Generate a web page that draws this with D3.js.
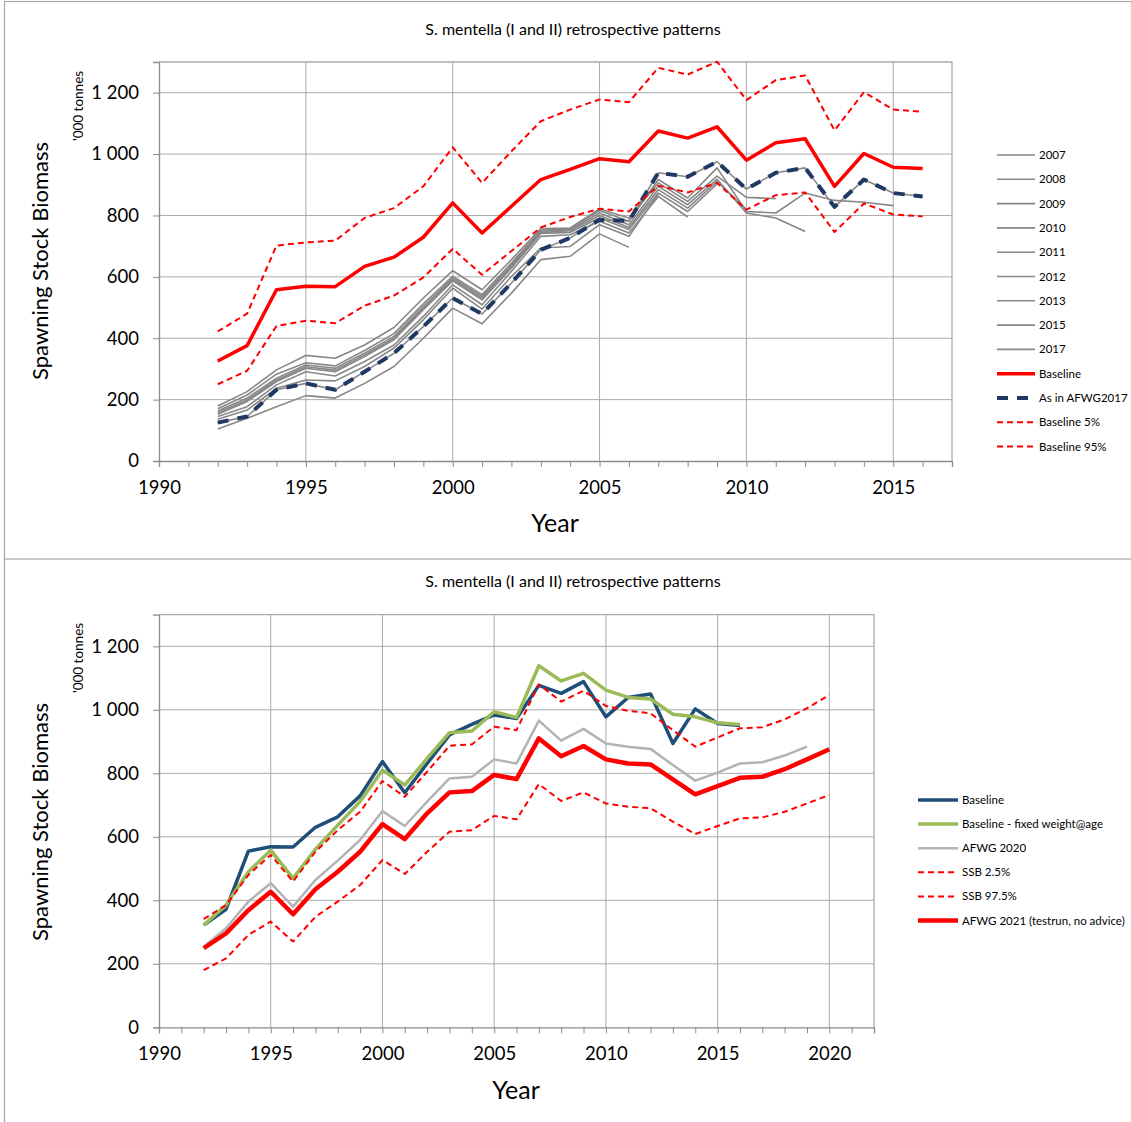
<!DOCTYPE html>
<html><head><meta charset="utf-8">
<script src="https://cdn.jsdelivr.net/npm/d3@7"></script>
<style>
body{margin:0;background:#fff;}
svg text{font-family:Lato,"Open Sans",sans-serif;fill:#000;}
</style></head>
<body>
<svg id="c" width="1131" height="1122"></svg>
<script>
// ---------- DATA ----------
const chartTitle = "S. mentella (I and II) retrospective patterns";
const yTickValues = [0,200,400,600,800,1000,1200];
const yTickLabels = ["0","200","400","600","800","1 000","1 200"];
const xTicksTop = [1990,1995,2000,2005,2010,2015];
const xTicksBottom = [1990,1995,2000,2005,2010,2015,2020];

// Top chart (years start 1992)
const topStartYear = 1992;
const r2007 = [104,139,177,213,205,253,308,400,498,447,547,656,667,740,696];
const r2008 = [136,166,237,264,261,308,368,460,563,495,601,694,699,770,732,870];
const r2009 = [145,177,248,291,277,324,378,471,574,509,618,732,737,781,743,862,795];
const r2010 = [152,194,259,302,291,340,395,493,587,525,629,741,745,792,754,873,813,903];
const r2011 = [157,199,264,307,296,345,400,497,591,530,634,744,750,800,761,884,824,911,820];
const r2012 = [179,226,297,344,335,378,435,531,620,558,656,757,759,821,792,906,846,928,859,855];
const r2013 = [163,205,270,313,302,351,406,503,596,536,639,748,754,808,770,895,835,918,808,792,748];
const r2015 = [170,215,283,320,310,360,415,512,602,542,645,752,757,816,781,917,857,955,813,808,873,849,843,832];
const r2017 = [125,145,232,253,232,291,351,438,531,479,580,688,727,786,782,939,926,975,886,939,955,828,917,873,862];
const topBaseline = [326,376,558,569,568,634,664,729,841,743,830,917,950,985,975,1075,1052,1089,980,1037,1050,895,1002,957,953];
const asInAFWG2017 = [125,145,232,253,232,291,351,438,531,479,580,688,727,786,782,939,926,975,886,939,955,828,917,873,862];
const baseline5 = [250,294,440,457,449,506,539,598,691,607,684,761,795,822,813,897,875,906,819,866,875,746,839,803,797];
const baseline95 = [422,480,702,712,718,792,824,895,1022,906,1009,1107,1145,1178,1169,1281,1259,1301,1176,1241,1256,1077,1202,1145,1138];

// Bottom chart (years start 1992)
const botStartYear = 1992;
const botBaseline = [322,372,555,569,568,630,663,729,837,739,831,921,954,984,973,1077,1052,1089,978,1039,1050,894,1003,957,951];
const fixedWeight = [322,385,490,558,469,561,637,711,810,763,847,928,933,994,976,1139,1091,1115,1062,1039,1034,986,978,959,954];
const afwg2020 = [254,312,396,454,380,464,525,590,681,634,711,784,789,844,831,966,903,940,894,884,877,826,777,802,831,835,856,884];
const ssb25 = [180,217,291,333,270,348,396,448,527,483,553,616,621,666,655,766,713,740,705,695,690,648,609,634,658,661,679,705,732];
const ssb975 = [341,385,480,543,459,553,621,679,776,726,805,887,891,947,936,1080,1026,1060,1012,997,989,936,884,913,942,945,970,1005,1047];
const afwg2021 = [249,296,369,427,356,435,490,553,640,593,674,740,744,795,782,910,854,886,844,831,828,781,734,760,786,789,813,844,876];

// ---------- STYLES ----------
const RED="#ff0000", NAVY="#1f3864", BLUE="#1f4e79", GREEN="#9bbb59", RGRAY="#878787", LGRAY="#b3b3b3", GRID="#ababab";

const topSeries = [
  {name:"2007", data:r2007, color:RGRAY, w:1.6},
  {name:"2008", data:r2008, color:RGRAY, w:1.6},
  {name:"2009", data:r2009, color:RGRAY, w:1.6},
  {name:"2010", data:r2010, color:RGRAY, w:1.6},
  {name:"2011", data:r2011, color:RGRAY, w:1.6},
  {name:"2012", data:r2012, color:RGRAY, w:1.6},
  {name:"2013", data:r2013, color:RGRAY, w:1.6},
  {name:"2015", data:r2015, color:RGRAY, w:1.6},
  {name:"2017", data:r2017, color:RGRAY, w:1.6},
  {name:"Baseline", data:topBaseline, color:RED, w:3.5},
  {name:"As in AFWG2017", data:asInAFWG2017, color:NAVY, w:4, dash:"11,9"},
  {name:"Baseline 5%", data:baseline5, color:RED, w:2, dash:"6,4"},
  {name:"Baseline 95%", data:baseline95, color:RED, w:2, dash:"6,4"}
];
const botSeries = [
  {name:"Baseline", data:botBaseline, color:BLUE, w:3.5},
  {name:"Baseline - fixed weight@age", data:fixedWeight, color:GREEN, w:3.5},
  {name:"AFWG 2020", data:afwg2020, color:LGRAY, w:2.5},
  {name:"SSB 2.5%", data:ssb25, color:RED, w:2, dash:"6,4"},
  {name:"SSB 97.5%", data:ssb975, color:RED, w:2, dash:"6,4"},
  {name:"AFWG 2021 (testrun, no advice)", data:afwg2021, color:RED, w:4.5}
];

const svg = d3.select("#c");

// outer frames
svg.append("rect").attr("x",4.5).attr("y",1.5).attr("width",1127).attr("height",557.5)
  .attr("fill","none").attr("stroke","#a6a6a6").attr("stroke-width",1.2);
svg.append("line").attr("x1",4.5).attr("x2",4.5).attr("y1",559).attr("y2",1122)
  .attr("stroke","#a6a6a6").attr("stroke-width",1.2);

function drawChart(cfg){
  const g = svg.append("g");
  const x = d3.scaleLinear().domain(cfg.xDomain).range([cfg.left,cfg.right]);
  const y = d3.scaleLinear().domain([0,1300]).range([cfg.bottom,cfg.top]);

  // title
  g.append("text").attr("x",cfg.titleX).attr("y",cfg.titleY).attr("text-anchor","middle")
    .attr("font-size",16).text(chartTitle);

  // horizontal gridlines
  g.append("g").selectAll("line").data(yTickValues.filter(v=>v>0)).join("line")
    .attr("x1",cfg.left).attr("x2",cfg.right).attr("y1",d=>y(d)).attr("y2",d=>y(d))
    .attr("stroke",GRID).attr("stroke-width",1);
  // vertical gridlines
  g.append("g").selectAll("line").data(cfg.xTicks.filter(v=>v>cfg.xDomain[0])).join("line")
    .attr("x1",d=>x(d)).attr("x2",d=>x(d)).attr("y1",cfg.top).attr("y2",cfg.bottom)
    .attr("stroke",GRID).attr("stroke-width",1);
  // frame top/right
  g.append("path").attr("d",`M${cfg.left},${cfg.top}H${cfg.right}V${cfg.bottom}`)
    .attr("fill","none").attr("stroke",GRID).attr("stroke-width",1.3);

  // y axis
  const yAxis = d3.axisLeft(y).tickValues(yTickValues).tickSize(6).tickPadding(14)
    .tickFormat((d,i)=>yTickLabels[i]);
  const ya = g.append("g").attr("transform",`translate(${cfg.left},0)`).call(yAxis);
  ya.select(".domain").attr("stroke","#8c8c8c").attr("stroke-width",1.3);
  ya.selectAll(".tick line").attr("stroke","#8c8c8c");
  ya.selectAll(".tick text").attr("font-size",18.5).attr("font-family","Lato").attr("fill","#000");

  // x axis minor ticks (every year)
  const years = d3.range(cfg.xDomain[0],cfg.xDomain[1]+1);
  const xAxisMinor = d3.axisBottom(x).tickValues(years).tickSize(6).tickFormat("");
  const xm = g.append("g").attr("transform",`translate(0,${cfg.bottom})`).call(xAxisMinor);
  xm.select(".domain").attr("stroke","#8c8c8c").attr("stroke-width",1.3);
  xm.selectAll(".tick line").attr("stroke","#8c8c8c");
  const xAxis = d3.axisBottom(x).tickValues(cfg.xTicks).tickSize(0).tickPadding(20).tickFormat(d3.format("d"));
  const xa = g.append("g").attr("transform",`translate(0,${cfg.bottom})`).call(xAxis);
  xa.select(".domain").remove();
  xa.selectAll(".tick text").attr("font-size",18.5).attr("font-family","Lato").attr("fill","#000");

  // axis titles
  g.append("text").attr("x",cfg.xLabelX).attr("y",cfg.xLabelY).attr("text-anchor","middle")
    .attr("font-size",25).text("Year");
  g.append("text").attr("transform",`translate(48,${cfg.yLabelY}) rotate(-90)`).attr("text-anchor","middle")
    .attr("font-size",22).text("Spawning Stock Biomass");
  g.append("text").attr("transform",`translate(83,${cfg.unitY}) rotate(-90)`).attr("text-anchor","middle")
    .attr("font-size",13.5).text("'000 tonnes");

  // lines
  const line = d3.line().x(d=>x(d[0])).y(d=>y(d[1]));
  cfg.series.forEach(s=>{
    const pts = s.data.map((v,i)=>[cfg.startYear+i,v]);
    g.append("path").datum(pts).attr("d",line).attr("fill","none")
      .attr("stroke",s.color).attr("stroke-width",s.w)
      .attr("stroke-dasharray",s.dash||null).attr("stroke-linejoin","round");
  });

  // legend
  const lg = g.append("g");
  cfg.series.forEach((s,i)=>{
    const ly = cfg.legY + i*cfg.legStep;
    lg.append("line").attr("x1",cfg.legX).attr("x2",cfg.legX+cfg.legLen).attr("y1",ly).attr("y2",ly)
      .attr("stroke",s.color).attr("stroke-width",s.w).attr("stroke-dasharray",s.dash||null);
    lg.append("text").attr("x",cfg.legX+cfg.legLen+4).attr("y",ly).attr("dy","0.35em")
      .attr("font-size",11.5).text(s.name);
  });
}

drawChart({xDomain:[1990,2017], left:159, right:952, top:62, bottom:461, xTicks:xTicksTop,
  titleX:573, titleY:35, xLabelX:555, xLabelY:532, yLabelY:261, unitY:106,
  series:topSeries, startYear:topStartYear, legX:997, legLen:38, legY:155, legStep:24.3});

drawChart({xDomain:[1990,2022], left:159, right:874, top:614.6, bottom:1027.3, xTicks:xTicksBottom,
  titleX:573, titleY:587, xLabelX:516, xLabelY:1099, yLabelY:822, unitY:658,
  series:botSeries, startYear:botStartYear, legX:918, legLen:40, legY:800, legStep:24.1});
</script>
</body></html>
